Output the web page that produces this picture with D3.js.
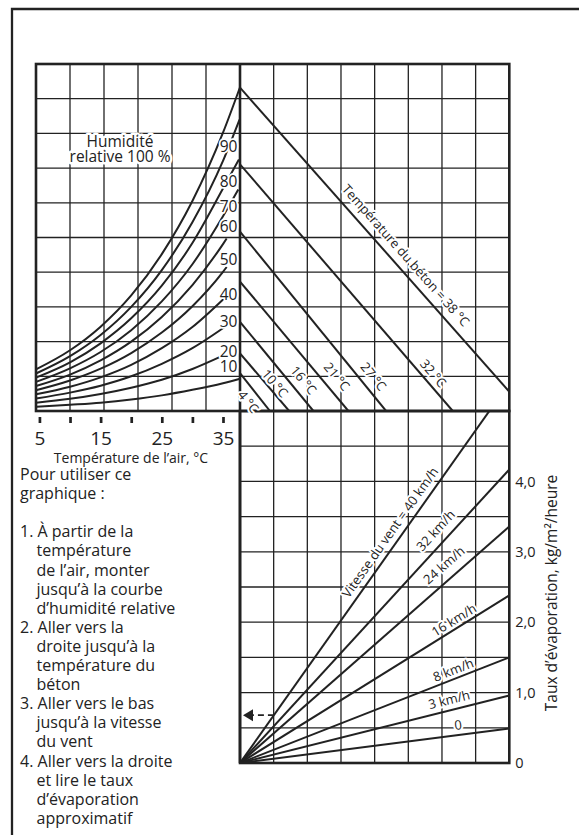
<!DOCTYPE html>
<html>
<head>
<meta charset="utf-8">
<script src="https://cdn.jsdelivr.net/npm/d3@7"></script>
<style>
  body { margin: 0; background: #fff; }
  svg { display: block; }
  text { font-family: "Open Sans", sans-serif; fill: #222; }
</style>
</head>
<body>
<svg id="svg" width="579" height="835"></svg>
<script>
// air temperature ticks, °C
var airTicks = [5, 10, 15, 20, 25, 30, 35];
var airTickLabels = [5, 15, 25, 35];

// relative humidity curves : [air temperature °C, vapour pressure in grid rows]
var rhLevels = [100, 90, 80, 70, 60, 50, 40, 30, 20, 10];
var rh100 = [[4.44, 1.20], [10, 1.75], [15, 2.43], [20, 3.33], [25, 4.52], [30, 6.05], [35, 8.02], [37.78, 9.33]];
var rh90  = [[4.44, 1.08], [10, 1.58], [15, 2.19], [20, 3.00], [25, 4.06], [30, 5.44], [35, 7.21], [37.7, 8.40]];
var rh80  = [[4.44, 0.96], [10, 1.40], [15, 1.95], [20, 2.67], [25, 3.61], [30, 4.84], [35, 6.41], [37.6, 7.25]];
var rh70  = [[4.44, 0.84], [10, 1.23], [15, 1.70], [20, 2.33], [25, 3.16], [30, 4.23], [35, 5.61], [37.5, 6.38]];
var rh60  = [[4.44, 0.72], [10, 1.05], [15, 1.46], [20, 2.00], [25, 2.71], [30, 3.63], [35, 4.81], [35.6, 4.97]];
var rh50  = [[4.44, 0.60], [10, 0.88], [15, 1.22], [20, 1.67], [25, 2.26], [30, 3.02], [35, 4.01], [35.6, 4.15]];
var rh40  = [[4.44, 0.48], [10, 0.70], [15, 0.97], [20, 1.33], [25, 1.81], [30, 2.42], [35.1, 3.23]];
var rh30  = [[4.44, 0.36], [10, 0.53], [15, 0.73], [20, 1.00], [25, 1.36], [30, 1.81], [36.1, 2.52]];
var rh20  = [[4.44, 0.24], [10, 0.35], [15, 0.49], [20, 0.67], [25, 0.90], [30, 1.21], [34.8, 1.58]];
var rh10  = [[4.44, 0.12], [10, 0.18], [15, 0.24], [20, 0.33], [25, 0.45], [30, 0.61], [35, 0.80], [37.78, 0.93]];
var rhCurves = [rh100, rh90, rh80, rh70, rh60, rh50, rh40, rh30, rh20, rh10];

// concrete temperature lines : start (grid rows on middle axis), end (columns on base line)
var betonTemps = [38, 32, 27, 21, 16, 10, 4];
var betonStart = [9.32, 7.11, 5.17, 3.73, 2.57, 1.66, 1.09];
var betonEnd   = [8.51, 6.32, 4.34, 3.22, 2.18, 1.46, 0.89];

// wind speed lines : evaporation rate reached on the right edge
var windSpeeds = [40, 32, 24, 16, 8, 3, 0];
var windEvap   = [5.40, 4.17, 3.36, 2.38, 1.50, 0.96, 0.49];

var evapTicks = [0, 1, 2, 3, 4];
var exampleEvap = 0.68;

var notes = [
  ['Pour utiliser ce', 0], ['graphique :', 0], ['', 0],
  ['1. À partir de la', 0], ['température', 1], ['de l’air, monter', 1],
  ['jusqu’à la courbe', 1], ['d’humidité relative', 1],
  ['2. Aller vers la', 0], ['droite jusqu’à la', 1], ['température du', 1], ['béton', 1],
  ['3. Aller vers le bas', 0], ['jusqu’à la vitesse', 1], ['du vent', 1],
  ['4. Aller vers la droite', 0], ['et lire le taux', 1], ['d’évaporation', 1], ['approximatif', 1]
];

var svg = d3.select('#svg');
var ink = '#222';

// frame of the nomograph
var xL = 36, xM = 240, xR = 509.3, yT = 64, yB = 411, yBot = 763;

var xAir  = d3.scaleLinear().domain([4.44, 37.78]).range([xL, xM]);
var xCol  = d3.scaleLinear().domain([0, 6]).range([xL, xM]);
var xDiff = d3.scaleLinear().domain([0, 8]).range([xM, xR]);
var yRow  = d3.scaleLinear().domain([0, 10]).range([yB, yT]);
var yEvap = d3.scaleLinear().domain([0, 5]).range([yBot, yB]);

var defs = svg.append('defs');
defs.append('clipPath').attr('id', 'clipTop')
  .append('rect').attr('x', xM).attr('y', yT).attr('width', xR - xM).attr('height', yB - yT);
defs.append('clipPath').attr('id', 'clipBottom')
  .append('rect').attr('x', xM).attr('y', yB).attr('width', xR - xM).attr('height', yBot - yB);

// outer page frame (top and left only)
svg.append('path').attr('d', 'M12,835 L12,9 L579,9')
  .attr('fill', 'none').attr('stroke', ink).attr('stroke-width', 2.3);

// grid
var grid = svg.append('g').attr('stroke', ink).attr('stroke-width', 1.3);
d3.range(1, 6).forEach(function (i) {
  grid.append('line').attr('x1', xCol(i)).attr('x2', xCol(i)).attr('y1', yT).attr('y2', yB);
});
d3.range(1, 8).forEach(function (i) {
  grid.append('line').attr('x1', xDiff(i)).attr('x2', xDiff(i)).attr('y1', yT).attr('y2', yBot);
});
d3.range(1, 10).forEach(function (i) {
  grid.append('line').attr('x1', xL).attr('x2', xR).attr('y1', yRow(i)).attr('y2', yRow(i));
});
d3.range(0.5, 5, 0.5).forEach(function (v) {
  grid.append('line').attr('x1', xM).attr('x2', xR).attr('y1', yEvap(v)).attr('y2', yEvap(v));
});

// borders
var borders = svg.append('g').attr('fill', 'none').attr('stroke', ink).attr('stroke-width', 2.6);
borders.append('rect').attr('x', xL).attr('y', yT).attr('width', xR - xL).attr('height', yB - yT);
borders.append('rect').attr('x', xM).attr('y', yB).attr('width', xR - xM).attr('height', yBot - yB);
borders.append('line').attr('x1', xM).attr('x2', xM).attr('y1', yT).attr('y2', yBot);

// humidity curves
var rhLine = d3.line().x(d => xAir(d[0])).y(d => yRow(d[1])).curve(d3.curveMonotoneX);
svg.append('g').selectAll('path').data(rhCurves).join('path')
  .attr('d', rhLine).attr('fill', 'none').attr('stroke', ink).attr('stroke-width', 2);

// concrete temperature lines
svg.append('g').attr('clip-path', 'url(#clipTop)').selectAll('line').data(betonTemps).join('line')
  .attr('x1', xDiff(0)).attr('y1', (d, i) => yRow(betonStart[i]))
  .attr('x2', (d, i) => xDiff(betonEnd[i])).attr('y2', yRow(0))
  .attr('stroke', ink).attr('stroke-width', 2);

// wind speed lines
svg.append('g').attr('clip-path', 'url(#clipBottom)').selectAll('line').data(windSpeeds).join('line')
  .attr('x1', xDiff(0)).attr('y1', yEvap(0))
  .attr('x2', xDiff(8)).attr('y2', (d, i) => yEvap(windEvap[i]))
  .attr('stroke', ink).attr('stroke-width', 2);

// dashed example arrow back to the evaporation axis
var windSlope40 = windEvap[0] / 8;
svg.append('line')
  .attr('x1', xDiff(exampleEvap / windSlope40)).attr('x2', xM + 11)
  .attr('y1', yEvap(exampleEvap)).attr('y2', yEvap(exampleEvap))
  .attr('stroke', ink).attr('stroke-width', 1.6).attr('stroke-dasharray', '6,4');
svg.append('path')
  .attr('d', `M${xM + 3},${yEvap(exampleEvap)} l10,-6 l0,12 z`).attr('fill', ink);

// air temperature axis
svg.append('g').attr('transform', `translate(0,${yB + 6})`)
  .call(d3.axisBottom(xAir).tickValues(airTicks).tickSize(6).tickPadding(9)
    .tickFormat(d => airTickLabels.indexOf(d) >= 0 ? d : ''))
  .call(g => g.select('.domain').remove())
  .call(g => g.selectAll('line').attr('stroke', ink).attr('stroke-width', 2.7))
  .call(g => g.selectAll('text').attr('font-size', 19).attr('font-family', '"Open Sans", sans-serif').attr('fill', ink));

svg.append('text').attr('x', 131).attr('y', 463).attr('text-anchor', 'middle')
  .attr('font-size', 14).text('Température de l’air, °C');

// evaporation axis
svg.append('g').attr('transform', `translate(${xR},0)`)
  .call(d3.axisRight(yEvap).tickValues(evapTicks).tickSize(0).tickPadding(6)
    .tickFormat(d => d === 0 ? '0' : d3.format('.1f')(d).replace('.', ',')))
  .call(g => g.select('.domain').remove())
  .call(g => g.selectAll('text').attr('font-size', 14.5).attr('font-family', '"Open Sans", sans-serif').attr('fill', ink));

svg.append('text').attr('transform', `translate(557,${(yB + yBot) / 2 + 6}) rotate(-90)`)
  .attr('text-anchor', 'middle').attr('font-size', 15.5).text('Taux d’évaporation, kg/m²/heure');

function halo(sel, w) {
  return sel.attr('stroke', '#fff').attr('stroke-width', w).attr('stroke-linejoin', 'round').attr('paint-order', 'stroke');
}

// label placed along a segment, t = fraction along, off = perpendicular shift
function alongLabel(p0, p1, t, off, txt, size) {
  var dx = p1[0] - p0[0], dy = p1[1] - p0[1], len = Math.hypot(dx, dy);
  var ux = dx / len, uy = dy / len;
  var cx = p0[0] + dx * t + uy * off, cy = p0[1] + dy * t - ux * off;
  var ang = Math.atan2(dy, dx) * 180 / Math.PI;
  halo(svg.append('text'), 4)
    .attr('transform', `translate(${cx},${cy}) rotate(${ang})`)
    .attr('text-anchor', 'middle').attr('dy', '0.35em').attr('font-size', size).text(txt);
}

// humidity labels
var rhLabelY = [null, 146.7, 181.7, 206.7, 226.7, 260, 295, 321.7, 351.7, 367];
rhLevels.forEach(function (r, i) {
  if (i === 0) return;
  halo(svg.append('text'), 3.5).attr('x', 228.5).attr('y', rhLabelY[i]).attr('dy', '0.35em')
    .attr('text-anchor', 'middle').attr('font-size', 15.5).text(r);
});
var hum = halo(svg.append('text'), 5).attr('text-anchor', 'middle').attr('font-size', 15.5);
hum.append('tspan').attr('x', 120).attr('y', 146.5).text('Humidité');
hum.append('tspan').attr('x', 120).attr('y', 162).text('relative 100 %');

// concrete labels
var betonLabelT   = [0.58, 0.873, 0.85, 0.80, 0.74, 0.60, 0.57];
var betonLabelOff = [12.8, 9.8, 11.9, 13.1, 11.9, 7.1, -11.2];
betonTemps.forEach(function (t, i) {
  var p0 = [xDiff(0), yRow(betonStart[i])];
  var p1 = [xDiff(betonEnd[i]), yRow(0)];
  if (i === 0) p1 = [xDiff(8), yRow(betonStart[0] - 8 * betonStart[0] / betonEnd[0])];
  var txt = i === 0 ? 'Température du béton = ' + t + ' °C' : t + ' °C';
  alongLabel(p0, p1, betonLabelT[i], betonLabelOff[i], txt, 13);
});

// wind labels
var windLabelT   = [0.59, 0.762, 0.792, 0.811, 0.804, 0.786, 0.815];
var windLabelOff = [10.8, 13, 14, 8.4, 8.7, 10.5, 10];
windSpeeds.forEach(function (w, i) {
  var p0 = [xDiff(0), yEvap(0)];
  var p1 = [xDiff(8), yEvap(windEvap[i])];
  var txt = i === 0 ? 'Vitesse du vent = 40 km/h' : (w === 0 ? '0' : w + ' km/h');
  alongLabel(p0, p1, windLabelT[i], windLabelOff[i], txt, 13);
});

// how-to notes
var noteText = svg.append('text').attr('font-size', 16);
notes.forEach(function (n, i) {
  noteText.append('tspan').attr('x', n[1] ? 36.5 : 20).attr('y', 480 + i * 19.1).text(n[0]);
});
</script>
</body>
</html>
